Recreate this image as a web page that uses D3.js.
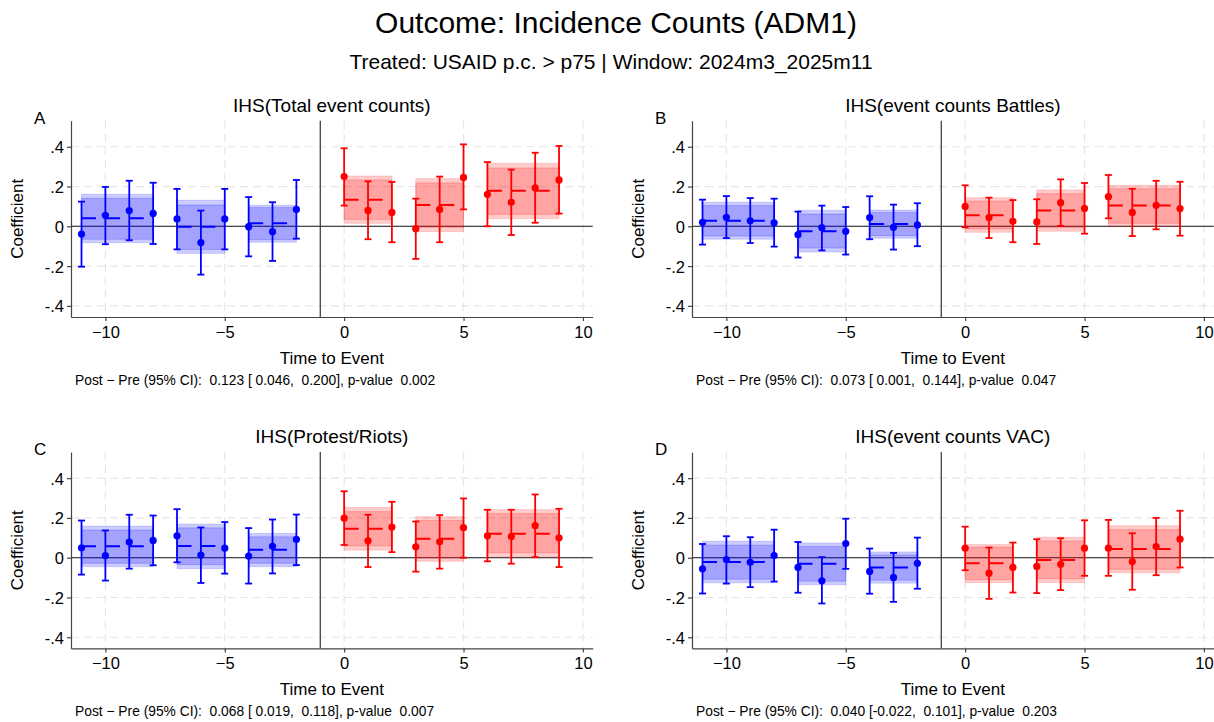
<!DOCTYPE html>
<html>
<head>
<meta charset="utf-8">
<script src="https://cdn.jsdelivr.net/npm/d3@7"></script>
<style>
  body { margin: 0; background: #fff; }
  svg text { font-family: "Liberation Sans", Arial, sans-serif; fill: #000; }
</style>
</head>
<body>
<svg id="chart" width="1214" height="722"></svg>
<script>
// Event time (months relative to the cut); -1 is the omitted reference period
const eventTime = [-11, -10, -9, -8, -7, -6, -5, -4, -3, -2, 0, 1, 2, 3, 4, 5, 6, 7, 8, 9];

// Pooled windows: first/last event time of each block
const groupStart = [-11, -7, -4, 0, 3, 6];
const groupEnd   = [-8, -5, -2, 2, 5, 9];

const xTicks = [-10, -5, 0, 5, 10];
const yTicks = [-0.4, -0.2, 0, 0.2, 0.4];

const panelLetters = ["A", "B", "C", "D"];
const panelTitles = [
  "IHS(Total event counts)",
  "IHS(event counts Battles)",
  "IHS(Protest/Riots)",
  "IHS(event counts VAC)"
];
const panelNotes = [
  "Post \u2212 Pre (95% CI):  0.123 [ 0.046,  0.200], p-value  0.002",
  "Post \u2212 Pre (95% CI):  0.073 [ 0.001,  0.144], p-value  0.047",
  "Post \u2212 Pre (95% CI):  0.068 [ 0.019,  0.118], p-value  0.007",
  "Post \u2212 Pre (95% CI):  0.040 [-0.022,  0.101], p-value  0.203"
];

// Panel A: IHS(Total event counts)
const coefA = [-0.039, 0.055, 0.079, 0.065, 0.037, -0.082, 0.037, -0.002, -0.027, 0.085, 0.250, 0.080, 0.070, -0.012, 0.085, 0.246, 0.161, 0.121, 0.193, 0.233];
const loA   = [-0.203, -0.090, -0.070, -0.089, -0.116, -0.243, -0.116, -0.151, -0.174, -0.062, 0.104, -0.065, -0.080, -0.164, -0.080, 0.085, 0.000, -0.044, 0.018, 0.064];
const hiA   = [0.124, 0.198, 0.229, 0.219, 0.188, 0.079, 0.188, 0.147, 0.121, 0.233, 0.392, 0.226, 0.223, 0.139, 0.250, 0.412, 0.323, 0.285, 0.370, 0.404];
const meanA    = [0.040, -0.002, 0.015, 0.134, 0.107, 0.179];
const outerLoA = [-0.082, -0.136, -0.080, 0.015, -0.027, 0.039];
const outerHiA = [0.161, 0.131, 0.106, 0.253, 0.240, 0.317];
const innerLoA = [-0.065, -0.116, -0.067, 0.035, -0.005, 0.060];
const innerHiA = [0.141, 0.107, 0.094, 0.233, 0.218, 0.293];

// Panel B: IHS(event counts Battles)
const coefB = [0.020, 0.045, 0.028, 0.018, -0.042, -0.007, -0.025, 0.044, -0.005, 0.007, 0.100, 0.044, 0.025, 0.022, 0.119, 0.090, 0.149, 0.070, 0.106, 0.089];
const loB   = [-0.092, -0.059, -0.084, -0.102, -0.157, -0.121, -0.142, -0.065, -0.117, -0.100, -0.005, -0.059, -0.080, -0.089, 0.002, -0.037, 0.040, -0.049, -0.015, -0.047];
const hiB   = [0.134, 0.152, 0.142, 0.139, 0.074, 0.104, 0.097, 0.151, 0.109, 0.116, 0.206, 0.144, 0.132, 0.136, 0.236, 0.218, 0.258, 0.189, 0.229, 0.224];
const meanB    = [0.028, -0.025, 0.012, 0.055, 0.079, 0.104];
const outerLoB = [-0.065, -0.129, -0.060, -0.030, -0.025, -0.002];
const outerHiB = [0.121, 0.080, 0.082, 0.144, 0.183, 0.206];
const innerLoB = [-0.049, -0.109, -0.047, -0.013, -0.007, 0.015];
const innerHiB = [0.104, 0.062, 0.069, 0.127, 0.164, 0.189];

// Panel C: IHS(Protest/Riots)
const coefC = [0.050, 0.010, 0.079, 0.087, 0.110, 0.013, 0.048, 0.008, 0.057, 0.092, 0.199, 0.085, 0.154, 0.055, 0.080, 0.151, 0.110, 0.107, 0.161, 0.100];
const loC   = [-0.085, -0.115, -0.055, -0.038, -0.023, -0.127, -0.080, -0.130, -0.079, -0.037, 0.064, -0.047, 0.028, -0.070, -0.055, 0.000, -0.018, -0.030, 0.003, -0.047];
const hiC   = [0.187, 0.137, 0.216, 0.212, 0.244, 0.152, 0.179, 0.149, 0.192, 0.217, 0.334, 0.216, 0.281, 0.182, 0.214, 0.298, 0.241, 0.241, 0.318, 0.246];
const meanC    = [0.057, 0.059, 0.040, 0.145, 0.095, 0.120];
const outerLoC = [-0.045, -0.055, -0.045, 0.038, -0.018, 0.005];
const outerHiC = [0.159, 0.169, 0.122, 0.253, 0.206, 0.242];
const innerLoC = [-0.028, -0.035, -0.028, 0.059, 0.000, 0.025];
const innerHiC = [0.139, 0.150, 0.105, 0.232, 0.187, 0.222];

// Panel D: IHS(event counts VAC)
const coefD = [-0.056, -0.009, -0.023, 0.011, -0.049, -0.116, 0.071, -0.069, -0.099, -0.028, 0.048, -0.078, -0.049, -0.044, -0.033, 0.048, 0.048, -0.019, 0.056, 0.093];
const loD   = [-0.180, -0.130, -0.148, -0.120, -0.176, -0.230, -0.056, -0.181, -0.222, -0.156, -0.063, -0.207, -0.175, -0.178, -0.163, -0.091, -0.091, -0.161, -0.088, -0.049];
const hiD   = [0.069, 0.108, 0.103, 0.141, 0.079, 0.003, 0.196, 0.046, 0.024, 0.101, 0.156, 0.051, 0.076, 0.093, 0.098, 0.188, 0.190, 0.123, 0.200, 0.236];
const meanD    = [-0.021, -0.031, -0.049, -0.028, -0.011, 0.044];
const outerLoD = [-0.126, -0.136, -0.128, -0.125, -0.125, -0.076];
const outerHiD = [0.083, 0.074, 0.029, 0.066, 0.103, 0.161];
const innerLoD = [-0.108, -0.118, -0.113, -0.110, -0.106, -0.058];
const innerHiD = [0.063, 0.056, 0.014, 0.053, 0.084, 0.141];

const PRE = "#0000ff", POST = "#ff0000";

const panels = [
  { coef: coefA, lo: loA, hi: hiA, mean: meanA, oLo: outerLoA, oHi: outerHiA, iLo: innerLoA, iHi: innerHiA },
  { coef: coefB, lo: loB, hi: hiB, mean: meanB, oLo: outerLoB, oHi: outerHiB, iLo: innerLoB, iHi: innerHiB },
  { coef: coefC, lo: loC, hi: hiC, mean: meanC, oLo: outerLoC, oHi: outerHiC, iLo: innerLoC, iHi: innerHiC },
  { coef: coefD, lo: loD, hi: hiD, mean: meanD, oLo: outerLoD, oHi: outerHiD, iLo: innerLoD, iHi: innerHiD }
];
const offsets = [[0, 0], [621, 0], [0, 331.4], [621, 331.4]];

const svg = d3.select("#chart");

// Figure headings
svg.append("text").attr("x", 616).attr("y", 33).attr("text-anchor", "middle")
  .style("font-size", "30px").text("Outcome: Incidence Counts (ADM1)");
svg.append("text").attr("x", 611).attr("y", 69).attr("text-anchor", "middle")
  .style("font-size", "21px").text("Treated: USAID p.c. > p75 | Window: 2024m3_2025m11");

const plotL = 71, plotR = 592.7, plotT = 120.7, plotB = 317;
const x = d3.scaleLinear().domain([-11.44, 10.41]).range([plotL, plotR]);
const y = d3.scaleLinear().domain([-0.456, 0.531]).range([plotB, plotT]);
const fmtY = d => d === 0 ? "0" : (d < 0 ? "-" : "") + String(Math.abs(d)).replace(/^0/, "");

panels.forEach((p, k) => {
  const g = svg.append("g").attr("transform", `translate(${offsets[k][0]},${offsets[k][1]})`);
  const rows = eventTime.map((t, i) => ({ t, c: p.coef[i], lo: p.lo[i], hi: p.hi[i], col: t < 0 ? PRE : POST }));
  const blocks = groupStart.map((s, j) => ({
    s, e: groupEnd[j], m: p.mean[j], oLo: p.oLo[j], oHi: p.oHi[j], iLo: p.iLo[j], iHi: p.iHi[j],
    col: s < 0 ? PRE : POST
  }));

  // grid
  g.append("g").selectAll("line").data(yTicks.filter(v => v !== 0)).join("line")
    .attr("x1", plotL).attr("x2", plotR).attr("y1", d => y(d)).attr("y2", d => y(d))
    .attr("stroke", "#e6e6e6").attr("stroke-width", 1.2).attr("stroke-dasharray", "8,5");
  g.append("g").selectAll("line").data(xTicks).join("line")
    .attr("x1", d => x(d)).attr("x2", d => x(d)).attr("y1", plotT).attr("y2", plotB)
    .attr("stroke", "#e6e6e6").attr("stroke-width", 1.2).attr("stroke-dasharray", "8,5");

  // reference lines
  g.append("line").attr("x1", plotL).attr("x2", plotR).attr("y1", y(0)).attr("y2", y(0))
    .attr("stroke", "#111").attr("stroke-width", 1.1);
  g.append("line").attr("x1", x(-1)).attr("x2", x(-1)).attr("y1", plotT).attr("y2", plotB)
    .attr("stroke", "#333").attr("stroke-width", 1.2);

  // pooled confidence bands (outer and inner)
  const bg = g.append("g");
  bg.selectAll("rect.outer").data(blocks).join("rect").attr("class", "outer")
    .attr("x", d => x(d.s)).attr("width", d => x(d.e) - x(d.s))
    .attr("y", d => y(d.oHi)).attr("height", d => y(d.oLo) - y(d.oHi))
    .attr("fill", d => d.col).attr("fill-opacity", 0.2)
    .attr("stroke", d => d.col).attr("stroke-opacity", 0.15).attr("stroke-width", 1);
  bg.selectAll("rect.inner").data(blocks).join("rect").attr("class", "inner")
    .attr("x", d => x(d.s)).attr("width", d => x(d.e) - x(d.s))
    .attr("y", d => y(d.iHi)).attr("height", d => y(d.iLo) - y(d.iHi))
    .attr("fill", d => d.col).attr("fill-opacity", 0.2)
    .attr("stroke", d => d.col).attr("stroke-opacity", 0.2).attr("stroke-width", 1);
  // pooled mean
  bg.selectAll("line.mean").data(blocks).join("line").attr("class", "mean")
    .attr("x1", d => x(d.s)).attr("x2", d => x(d.e)).attr("y1", d => y(d.m)).attr("y2", d => y(d.m))
    .attr("stroke", d => d.col).attr("stroke-width", 2).attr("stroke-dasharray", "14.5,9.4");

  // error bars
  const eg = g.append("g");
  eg.selectAll("line.ci").data(rows).join("line").attr("class", "ci")
    .attr("x1", d => x(d.t)).attr("x2", d => x(d.t)).attr("y1", d => y(d.lo)).attr("y2", d => y(d.hi))
    .attr("stroke", d => d.col).attr("stroke-width", 1.8);
  ["lo", "hi"].forEach(key => {
    eg.selectAll("line.cap-" + key).data(rows).join("line").attr("class", "cap-" + key)
      .attr("x1", d => x(d.t) - 3.5).attr("x2", d => x(d.t) + 3.5)
      .attr("y1", d => y(d[key])).attr("y2", d => y(d[key]))
      .attr("stroke", d => d.col).attr("stroke-width", 1.8);
  });
  eg.selectAll("circle").data(rows).join("circle")
    .attr("cx", d => x(d.t)).attr("cy", d => y(d.c)).attr("r", 3.6).attr("fill", d => d.col);

  // axes
  const ya = g.append("g").attr("transform", `translate(${plotL},0)`)
    .call(d3.axisLeft(y).tickValues(yTicks).tickFormat(fmtY).tickSize(4).tickSizeOuter(0));
  const xa = g.append("g").attr("transform", `translate(0,${plotB})`)
    .call(d3.axisBottom(x).tickValues(xTicks).tickFormat(d3.format("d")).tickSize(4).tickSizeOuter(0));
  [ya, xa].forEach(a => {
    a.select(".domain").attr("stroke", "#444").attr("stroke-width", 1.2);
    a.selectAll(".tick line").attr("stroke", "#444").attr("stroke-width", 1.2);
    a.selectAll("text").style("font-size", "16.5px").attr("fill", "#000")
      .style("font-family", '"Liberation Sans", Arial, sans-serif');
  });
  ya.selectAll("text").attr("x", -7).attr("dy", "0.36em");
  xa.selectAll("text").attr("y", 9).attr("dy", "0.71em");

  // labels
  g.append("text").attr("x", 34).attr("y", 124).style("font-size", "17px").text(panelLetters[k]);
  g.append("text").attr("x", (plotL + plotR) / 2).attr("y", 112).attr("text-anchor", "middle")
    .style("font-size", "19px").text(panelTitles[k]);
  g.append("text").attr("transform", `translate(23,${(plotT + plotB) / 2}) rotate(-90)`)
    .attr("text-anchor", "middle").style("font-size", "17px").text("Coefficient");
  g.append("text").attr("x", (plotL + plotR) / 2).attr("y", 364).attr("text-anchor", "middle")
    .style("font-size", "17px").text("Time to Event");
  g.append("text").attr("x", 75).attr("y", 385).attr("xml:space", "preserve")
    .style("white-space", "pre").style("font-size", "13.8px").text(panelNotes[k]);
});
</script>
</body>
</html>
